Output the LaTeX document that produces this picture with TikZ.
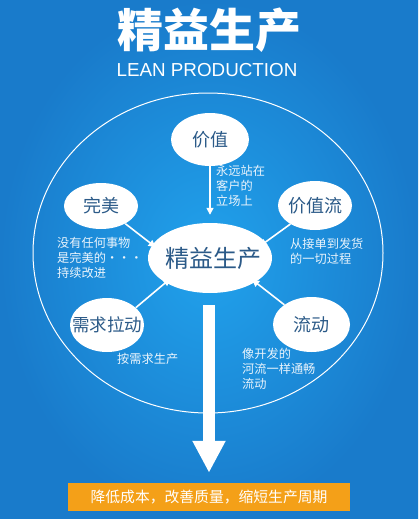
\documentclass[tikz,border=0pt]{standalone}
\usepackage{fontspec}
\setmainfont{Noto Sans CJK SC}
\newfontfamily\latinfont{Liberation Sans}
\usetikzlibrary{shapes.geometric,arrows.meta}
\definecolor{bgout}{HTML}{197BCB}
\definecolor{bgin}{HTML}{21A2EC}
\definecolor{nodetxt}{HTML}{2B5A88}
\definecolor{notetxt}{HTML}{EAF4FC}
\definecolor{orangebox}{HTML}{F4A018}
\newcommand{\zw}[1]{\makebox[0pt]{#1}}
\begin{document}
\begin{tikzpicture}[x=1pt,y=1pt,
  bubble/.style={ellipse, fill=white, inner sep=0pt, text=nodetxt, font=\fontsize{18}{20}\selectfont},
  note/.style={anchor=north west, inner sep=0pt, align=left, text=notetxt, font=\fontsize{12.2}{15}\selectfont},
  sarrow/.style={draw=white, line width=1.6pt, -{Triangle[width=7pt,length=7pt]}},
  bigarrow/.style={draw=white, line width=12pt, -{Triangle[width=31pt,length=32pt]}}
]
\useasboundingbox (0,0) rectangle (418,-519);
\shade[inner color=bgin, outer color=bgout] (0,0) rectangle (418,-519);

% title
\node[text=white, font=\fontsize{46}{50}\selectfont\bfseries] (title) at (209,-30) {精益生产};
\node[text=white, font=\latinfont\fontsize{18.8}{20}\selectfont] (subtitle) at (207,-70) {LEAN PRODUCTION};

% outer ellipse
\node[ellipse, draw=white, line width=1pt, minimum width=350pt, minimum height=320pt, inner sep=0pt] (outer) at (208,-253) {};

% bubbles
\node[bubble, minimum width=78pt, minimum height=53pt] (jz) at (210,-139.5) {\zw{价值}};
\node[bubble, minimum width=74pt, minimum height=46pt] (wm) at (101,-206) {\zw{完美}};
\node[bubble, minimum width=74pt, minimum height=49pt] (jzl) at (315,-205.5) {\zw{价值流}};
\node[bubble, minimum width=124pt, minimum height=70pt, font=\fontsize{24}{26}\selectfont] (core) at (210,-258) {\zw{\hspace*{6pt}精益生产}};
\node[bubble, minimum width=74pt, minimum height=54pt, font=\fontsize{17.5}{20}\selectfont] (xq) at (107,-325) {\zw{需求拉动}};
\node[bubble, minimum width=77pt, minimum height=55pt] (ld) at (311.5,-324.5) {\zw{流动}};

% notes
\node[note] (n1) at (216,-165.5) {永远站在\\客户的\\立场上};
\node[note] (n2) at (57,-237.5) {没有任何事物\\是完美的・・・\\持续改进};
\node[note] (n3) at (290,-237.5) {从接单到发货\\的一切过程};
\node[note] (n4) at (117,-352.5) {按需求生产};
\node[note] (n5) at (242,-347.5) {像开发的\\河流一样通畅\\流动};

% small arrows
\draw[sarrow, shorten >=8pt] (jz.south) -- (core.north);
\draw[sarrow, shorten >=-4pt] (wm.-36) -- (core.167);
\draw[sarrow, shorten >=-7pt] (jzl.-143) -- (core.16);
\draw[sarrow, shorten >=-6pt] (xq.31) -- (core.-151);
\draw[sarrow, shorten >=-4pt] (ld.144) -- (core.-28);

% result box
\node[fill=orangebox, minimum width=282pt, minimum height=28pt, inner sep=0pt, text=white, font=\fontsize{14.8}{16}\selectfont] (res) at (209,-497) {降低成本，改善质量，缩短生产周期};

% big arrow
\coordinate (astart) at (209,-305);
\draw[bigarrow, shorten >=10pt] (astart) -- (res.north);
\end{tikzpicture}
\end{document}
